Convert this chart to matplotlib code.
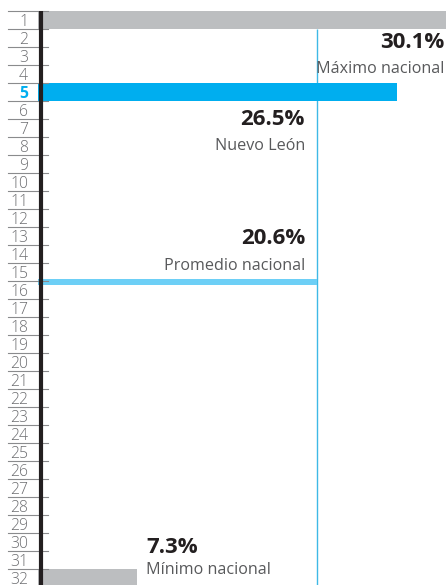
import matplotlib
matplotlib.use("Agg")
import matplotlib.pyplot as plt
from matplotlib.transforms import blended_transform_factory

# ---- data ----
ranks = list(range(1, 33))
highlight_rank = 5
max_rank, max_value, max_label = 1, 30.1, "Máximo nacional"
state_rank, state_value, state_label = 5, 26.5, "Nuevo León"
avg_rank, avg_value, avg_label = 16, 20.6, "Promedio nacional"
min_rank, min_value, min_label = 32, 7.3, "Mínimo nacional"

GRAY = "#bcbec0"
BLUE = "#00aeef"
LIGHT = "#6dcff6"
DARK = "#231f20"
TXT = "#58595b"
FONT = ["Open Sans", "DejaVu Sans"]

W, H = 446, 585
fig = plt.figure(figsize=(W / 100, H / 100), dpi=100)
x0 = 38
ax = fig.add_axes([x0 / W, 0, (W - x0) / W, 1])
ax.set_xlim(0, 30.1)
top_px, row_px = 11, 18
ax.set_ylim(0.5 + (H - top_px) / row_px, 0.5 - top_px / row_px)
ax.axis("off")

# bars
ax.barh(max_rank, max_value, height=1.05, color=GRAY, zorder=2)
ax.barh(state_rank, state_value, height=1.02, color=BLUE, zorder=2)
ax.barh(avg_rank - 0.44, avg_value, height=0.32, color=LIGHT, zorder=2)
ax.barh(min_rank, min_value, height=1.0, color=GRAY, zorder=2)

# average vertical line
ax.vlines(avg_value, 1.5, 33, color="#3fb9e6", lw=1.0, zorder=1)

# axis line
ax.vlines(0.22, 0.5, 33, color=DARK, lw=3.0, zorder=4, clip_on=False)

# rank labels and separators
tr = blended_transform_factory(fig.transFigure, ax.transData)
for r in ranks:
    hl = r == highlight_rank
    ax.text(28 / W, r + 0.32, str(r), transform=tr, ha="right", va="baseline",
            fontsize=11.3, color=BLUE if hl else "#6d6e71",
            fontweight="bold" if hl else "light", family=FONT)
for b in range(0, 33):
    ax.plot([8 / W, 48 / W], [b + 0.5, b + 0.5], transform=tr, color="#8a8b8d",
            lw=0.8, clip_on=False, zorder=3)

def px_x(px):
    return (px - x0) / ((W - x0) / 30.1)

def px_y(py):
    return 0.5 + (py - top_px) / row_px

# annotations
big = dict(fontsize=16, fontweight="bold", color=DARK, family=FONT, va="baseline")
small = dict(fontsize=11.6, color=TXT, family=FONT, va="baseline")
ax.text(px_x(444), px_y(48), f"{max_value}%", ha="right", **big)
ax.text(px_x(444), px_y(73), max_label, ha="right", **small)
ax.text(px_x(305), px_y(125), f"{state_value}%", ha="right", **big)
ax.text(px_x(305), px_y(150), state_label, ha="right", **small)
ax.text(px_x(305), px_y(244), f"{avg_value}%", ha="right", **big)
ax.text(px_x(305), px_y(270), avg_label, ha="right", **small)
ax.text(px_x(146), px_y(553), f"{min_value}%", ha="left", **big)
ax.text(px_x(146), px_y(574), min_label, ha="left", **small)

fig.savefig("out.png", dpi=100)
